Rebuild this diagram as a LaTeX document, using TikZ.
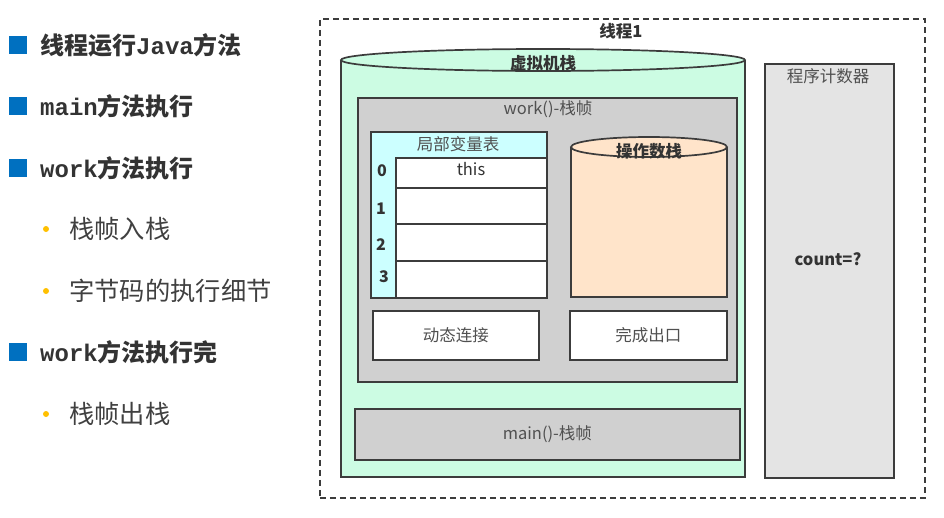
\documentclass[tikz,border=0pt]{standalone}
\usepackage{fontspec}
\newfontfamily\cjk{Noto Sans CJK SC}
\newfontfamily\latmono{Liberation Mono}
\definecolor{edge}{HTML}{3C3C3C}
\definecolor{mint}{HTML}{CCFCE3}
\definecolor{framegray}{HTML}{D0D0D0}
\definecolor{pcgray}{HTML}{E4E4E4}
\definecolor{lvcyan}{HTML}{CCFFFF}
\definecolor{peach}{HTML}{FFE4CA}
\definecolor{txtgray}{HTML}{505050}
\definecolor{bulletblue}{HTML}{0070C0}
\definecolor{bulletgold}{HTML}{FFC000}
\begin{document}
\begin{tikzpicture}[x=1pt,y=-1pt,
  box/.style={draw=edge, line width=1.7pt, inner sep=0pt, anchor=north west},
  lbl/.style={font=\cjk\fontsize{16.5}{18}\selectfont, text=txtgray, inner sep=0pt},
  bold/.style={font=\cjk\bfseries\fontsize{16.5}{18}\selectfont, text=black!80, inner sep=0pt},
  idx/.style={font=\cjk\bfseries\fontsize{16}{18}\selectfont, text=black!80, inner sep=0pt},
  topic/.style={font=\cjk\bfseries\fontsize{24}{26}\selectfont, text=black!80, anchor=west, inner sep=0pt},
  subtopic/.style={font=\cjk\fontsize{25.3}{27}\selectfont, text=black!75, anchor=west, inner sep=0pt},
  sq/.style={fill=bulletblue, minimum width=18pt, minimum height=18pt, inner sep=0pt},
  dot/.style={circle, fill=bulletgold, minimum size=6pt, inner sep=0pt}]
\useasboundingbox (0,0) rectangle (944,517);

% ---- outline of topics ----
\node[sq] (s1) at (18,45) {};
\node[topic] (t1) at (40,45) {线程运行{\latmono\bfseries Java}方法};
\node[sq] (s2) at (18,106) {};
\node[topic] (t2) at (40,106) {{\latmono\bfseries main}方法执行};
\node[sq] (s3) at (18,168) {};
\node[topic] (t3) at (40,168) {{\latmono\bfseries work}方法执行};
\node[dot] (d1) at (46,229) {};
\node[subtopic] (u1) at (69,229) {栈帧入栈};
\node[dot] (d2) at (46,291) {};
\node[subtopic] (u2) at (69,291) {字节码的执行细节};
\node[sq] (s4) at (18,352) {};
\node[topic] (t4) at (40,352) {{\latmono\bfseries work}方法执行完};
\node[dot] (d3) at (46,414) {};
\node[subtopic] (u3) at (69,414) {栈帧出栈};

% ---- thread boundary ----
\node[draw=edge, line width=1.5pt, dash pattern=on 6pt off 4pt, minimum width=605pt,
      minimum height=479pt, inner sep=0pt, anchor=north west] (thread) at (319,18) {};
\node[bold] (threadlbl) at (621,31) {线程1};

% ---- VM stack (cylinder) ----
\fill[mint] (341,60) rectangle (745,477);
\draw[edge, line width=1.7pt] (341,60) -- (341,477) -- (745,477) -- (745,60);
\draw[edge, line width=1.7pt, fill=mint] (543,60) ellipse [x radius=202pt, y radius=11pt];
\node[bold] (vmlbl) at (543,63) {虚拟机栈};

% ---- work() frame ----
\node[box, fill=framegray, minimum width=379pt, minimum height=284pt] (work) at (357,97) {};
\node[lbl] (worklbl) at (548,109) {work()-栈帧};

% local variable table
\node[box, fill=lvcyan, minimum width=176pt, minimum height=166pt] (lvt) at (370,131) {};
\node[lbl] (lvtlbl) at (458,144) {局部变量表};
\node[box, fill=white, minimum width=151pt, minimum height=30pt] (c0) at (395,157) {};
\node[box, fill=white, minimum width=151pt, minimum height=36pt] (c1) at (395,187) {};
\node[box, fill=white, minimum width=151pt, minimum height=37pt] (c2) at (395,223) {};
\node[box, fill=white, minimum width=151pt, minimum height=37pt] (c3) at (395,260) {};
\node[lbl, text=black!80] (this) at (471,169) {this};
\node[idx] (i0) at (382,171) {0};
\node[idx] (i1) at (381,209) {1};
\node[idx] (i2) at (381,245) {2};
\node[idx] (i3) at (384,277) {3};

% operand stack (cylinder)
\fill[peach] (571,147) rectangle (727,297);
\draw[edge, line width=1.7pt] (571,147) -- (571,297) -- (727,297) -- (727,147);
\draw[edge, line width=1.7pt, fill=peach] (649,147) ellipse [x radius=78pt, y radius=10pt];
\node[bold] (oslbl) at (649,151) {操作数栈};

% dynamic linking / return address
\node[box, fill=white, minimum width=166pt, minimum height=49pt] (dyn) at (372,310) {};
\node[lbl] at (dyn.center) {动态连接};
\node[box, fill=white, minimum width=157pt, minimum height=49pt] (ret) at (569,310) {};
\node[lbl] at (ret.center) {完成出口};

% ---- main() frame ----
\node[box, fill=framegray, minimum width=385pt, minimum height=51pt] (main) at (354,408) {};
\node[lbl] at (main.center) {main()-栈帧};

% ---- program counter ----
\node[box, fill=pcgray, minimum width=129pt, minimum height=414pt] (pc) at (764,63) {};
\node[lbl] (pclbl) at (828,76) {程序计数器};
\node[bold] (count) at (828,259) {count=?};
\end{tikzpicture}
\end{document}
